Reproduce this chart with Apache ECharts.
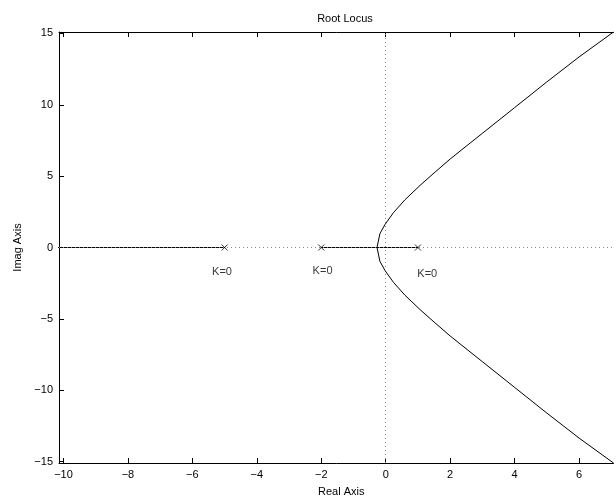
<!DOCTYPE html>
<html>
<head>
<meta charset="utf-8">
<script src="https://cdn.jsdelivr.net/npm/echarts@6/dist/echarts.min.js"></script>
<style>
  html, body { margin: 0; padding: 0; background: #fff; }
  #chart { width: 616px; height: 503px; }
</style>
</head>
<body>
<div id="chart"></div>
<script>
// Axis limits and tick positions
const xLimits = [-10.14, 7.07];
const yLimits = [-15.1, 15.1];
const xTicks = [-10, -8, -6, -4, -2, 0, 2, 4, 6];
const yTicks = [-15, -10, -5, 0, 5, 10, 15];

// Open-loop poles (K = 0)
const poles = [[-5, 0], [-2, 0], [1, 0]];

// Branches lying on the real axis
const realBranchLeft = [[-12, 0], [-5, 0]];
const realBranchMid = [[-2, 0], [-0.27, 0], [1, 0]];

// Complex branches leaving the breakaway point
const upperBranch = [
  [-0.27, 0], [-0.18, 0.97], [-0.02, 1.62], [0.24, 2.44], [0.6, 3.35],
  [1.07, 4.36], [1.5, 5.22], [2.0, 6.2], [3.0, 8.0], [4.0, 9.8],
  [5.0, 11.6], [6.0, 13.35], [7.07, 15.1]
];
const lowerBranch = [
  [-0.27, 0], [-0.18, -0.97], [-0.02, -1.62], [0.24, -2.44], [0.6, -3.35],
  [1.07, -4.36], [1.5, -5.22], [2.0, -6.2], [3.0, -8.0], [4.0, -9.8],
  [5.0, -11.6], [6.0, -13.35], [7.07, -15.1]
];

// Gain annotations near each pole
const gainLabels = [
  { value: [-5.08, -1.72], text: 'K=0' },
  { value: [-1.96, -1.61], text: 'K=0' },
  { value: [1.29, -1.87], text: 'K=0' }
];

const FONT = 'Liberation Sans, Arial, Helvetica, sans-serif';
const minus = v => String(v).replace('-', '\u2212');

const chart = echarts.init(document.getElementById('chart'), null, { renderer: 'canvas' });

const solid = { color: '#000', width: 1 };

chart.setOption({
  animation: false,
  backgroundColor: '#fff',
  title: {
    text: 'Root Locus',
    left: 340, top: 8, textAlign: 'center',
    textStyle: { fontFamily: FONT, fontSize: 11, fontWeight: 'normal', color: '#000' }
  },
  grid: { left: 59, top: 32, width: 554.5, height: 431, containLabel: false },
  xAxis: [{
    type: 'value', min: xLimits[0], max: xLimits[1], position: 'bottom',
    name: 'Real Axis', nameLocation: 'middle', nameGap: 23,
    nameTextStyle: { fontFamily: FONT, fontSize: 11, color: '#000', padding: [0, 0, 0, 10] },
    axisLine: { show: true, onZero: false, lineStyle: { color: '#000', width: 1 } },
    axisTick: { show: true, inside: true, length: 5, customValues: xTicks, lineStyle: { color: '#000' } },
    axisLabel: { show: true, customValues: xTicks, margin: 6, formatter: minus,
      fontFamily: FONT, fontSize: 11, color: '#000' },
    splitLine: { show: false }
  }, {
    type: 'value', min: xLimits[0], max: xLimits[1], position: 'top',
    axisLine: { show: true, onZero: false, lineStyle: { color: '#000', width: 1 } },
    axisTick: { show: true, inside: true, length: 5, customValues: xTicks, lineStyle: { color: '#000' } },
    axisLabel: { show: false },
    splitLine: { show: false }
  }],
  yAxis: [{
    type: 'value', min: yLimits[0], max: yLimits[1], position: 'left',
    name: 'Imag Axis', nameLocation: 'middle', nameGap: 35, nameRotate: 90,
    nameTextStyle: { fontFamily: FONT, fontSize: 11, color: '#000' },
    axisLine: { show: true, onZero: false, lineStyle: { color: '#000', width: 1 } },
    axisTick: { show: true, inside: true, length: 5, customValues: yTicks, lineStyle: { color: '#000' } },
    axisLabel: { show: true, customValues: yTicks, margin: 6, formatter: minus,
      fontFamily: FONT, fontSize: 11, color: '#000' },
    splitLine: { show: false }
  }],
  series: [
    {
      // dotted reference lines through the origin
      type: 'line', data: [], silent: true,
      markLine: {
        silent: true, symbol: 'none', label: { show: false },
        lineStyle: { color: '#888', width: 1, type: [1, 3] },
        data: [{ xAxis: 0 }, { yAxis: 0 }],
        animation: false
      }
    },
    { type: 'line', data: realBranchLeft, showSymbol: false, lineStyle: solid, silent: true },
    { type: 'line', data: realBranchMid, showSymbol: false, lineStyle: solid, silent: true },
    { type: 'line', data: upperBranch, showSymbol: false, lineStyle: solid, silent: true },
    { type: 'line', data: lowerBranch, showSymbol: false, lineStyle: solid, silent: true },
    {
      type: 'scatter', data: poles, silent: true,
      symbol: 'path://M0,0L10,10M10,0L0,10', symbolSize: 6,
      itemStyle: { color: 'none', borderColor: '#000', borderWidth: 1 }
    },
    {
      type: 'scatter', silent: true, symbolSize: 0,
      data: gainLabels.map(g => ({ value: g.value, text: g.text })),
      label: {
        show: true, position: 'inside', color: '#000',
        fontFamily: FONT, fontSize: 11,
        formatter: p => p.data.text
      }
    }
  ]
});
</script>
</body>
</html>
